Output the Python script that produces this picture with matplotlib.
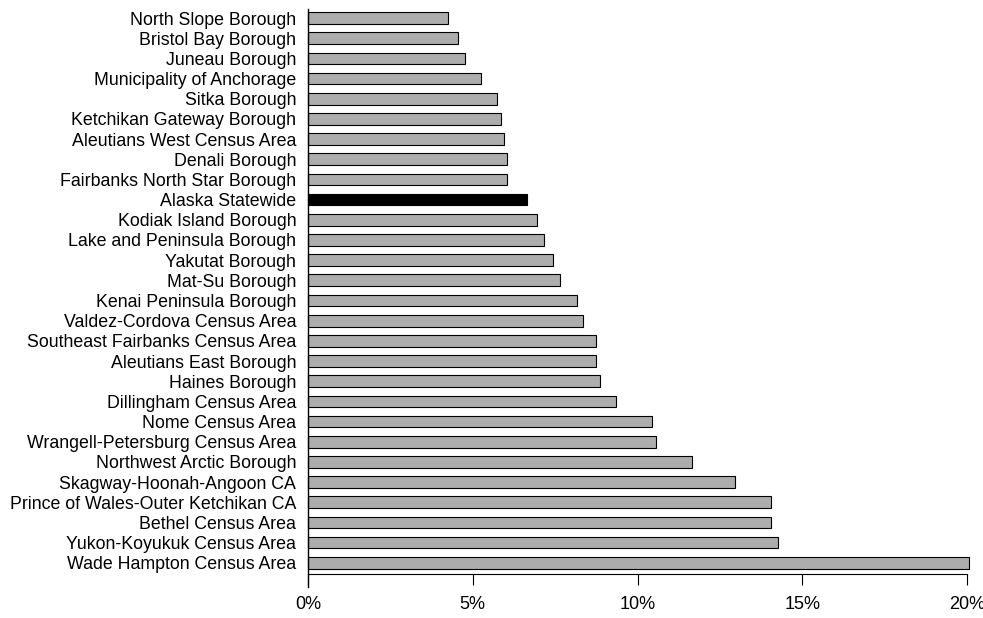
import matplotlib
matplotlib.use("Agg")
import matplotlib.pyplot as plt
import numpy as np

plt.rcParams["font.family"] = ["Liberation Sans", "DejaVu Sans"]

# listed top to bottom as in the chart
areas = [
    "North Slope Borough", "Bristol Bay Borough", "Juneau Borough",
    "Municipality of Anchorage", "Sitka Borough", "Ketchikan Gateway Borough",
    "Aleutians West Census Area", "Denali Borough", "Fairbanks North Star Borough",
    "Alaska Statewide", "Kodiak Island Borough", "Lake and Peninsula Borough",
    "Yakutat Borough", "Mat-Su Borough", "Kenai Peninsula Borough",
    "Valdez-Cordova Census Area", "Southeast Fairbanks Census Area",
    "Aleutians East Borough", "Haines Borough", "Dillingham Census Area",
    "Nome Census Area", "Wrangell-Petersburg Census Area",
    "Northwest Arctic Borough", "Skagway-Hoonah-Angoon CA",
    "Prince of Wales-Outer Ketchikan CA", "Bethel Census Area",
    "Yukon-Koyukuk Census Area", "Wade Hampton Census Area",
]
pct = [
    4.25, 4.55, 4.75, 5.25, 5.75, 5.85, 5.95, 6.05, 6.05,
    6.65, 6.95, 7.15, 7.45, 7.65, 8.15, 8.35, 8.75, 8.75,
    8.85, 9.35, 10.45, 10.55, 11.65, 12.95, 14.05, 14.05,
    14.25, 20.05,
]
highlight = "Alaska Statewide"
xticks = [0, 5, 10, 15, 20]

W, H = 983, 618
fig = plt.figure(figsize=(W / 100, H / 100), dpi=100)
ax = fig.add_axes([308 / W, 1 - 587 / H, (967 - 308) / W, (587 - 9) / H])

n = len(areas)
ypos = np.arange(n)[::-1]
colors = ["black" if a == highlight else "#adadad" for a in areas]
ax.barh(ypos, pct, height=0.58, color=colors, edgecolor="black",
        linewidth=0.8, clip_on=False)

# spine moves reset the ticks, so do them first
for s in ["top", "right"]:
    ax.spines[s].set_visible(False)
ax.spines["bottom"].set_position(("data", -0.545))
ax.spines["bottom"].set_bounds(0, 20)
ax.spines["left"].set_linewidth(1.0)
ax.spines["bottom"].set_linewidth(0.8)

ax.set_xlim(0, 20)
ax.set_ylim(-1.2, 27.45)
ax.set_yticks(ypos)
ax.set_yticklabels(areas)
ax.tick_params(axis="y", length=0, pad=8.5, labelsize=12.8)

ax.set_xticks(xticks)
ax.set_xticklabels([f"{t}%" for t in xticks])
ax.tick_params(axis="x", length=8, width=0.8, pad=8, direction="out",
               labelsize=13)

fig.savefig("out.png", dpi=100)
